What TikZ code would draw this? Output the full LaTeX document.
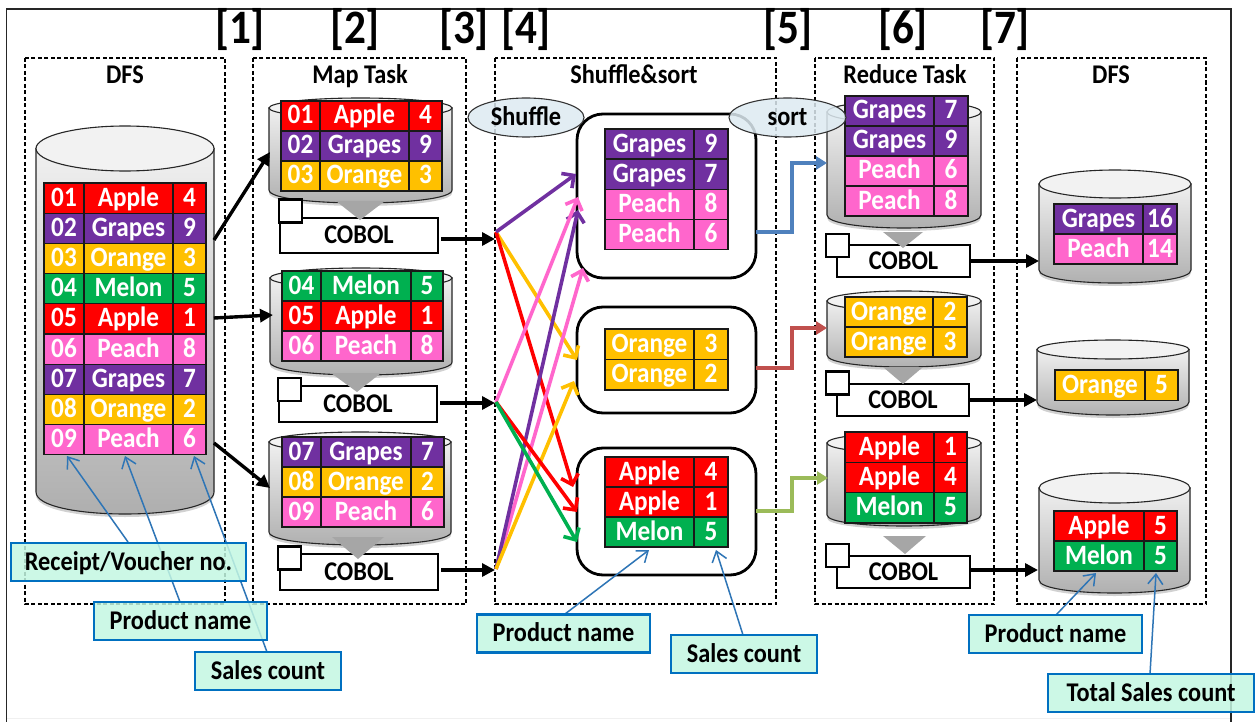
\documentclass[tikz,border=0pt]{standalone}
\usepackage{fontspec}
\setmainfont{Carlito}[FakeStretch=0.9]
\usetikzlibrary{arrows.meta,shapes.geometric,calc}
\definecolor{tred}{HTML}{FF0000}
\definecolor{tpur}{HTML}{7030A0}
\definecolor{torg}{HTML}{FFC000}
\definecolor{tgrn}{HTML}{00B050}
\definecolor{tpnk}{HTML}{FF66CC}
\definecolor{callfill}{HTML}{C4F7E2}
\definecolor{callline}{HTML}{0070C0}
\definecolor{callarrow}{HTML}{2E75B6}
\definecolor{elfill}{HTML}{DEEBF2}
\definecolor{stepb}{HTML}{4F81BD}
\definecolor{stepr}{HTML}{C0504D}
\definecolor{stepg}{HTML}{9BBB59}
\newcommand\fs[1]{\fontsize{#1}{#1}\selectfont\bfseries}
\tikzset{
  every node/.style={inner sep=0pt,outer sep=0pt},
  dashbox/.style={draw=black,dashed,line width=1.1pt,dash pattern=on 4pt off 2.5pt},
  tabcell/.style={draw=black!90,line width=1.2pt,anchor=north west,text=white,font=\fs{28},
    text height=19pt,text depth=3pt,align=center},
  head/.style={font=\fs{27},text=black,text height=19pt,text depth=4pt},
  bignum/.style={font=\fs{48},text=black},
  cylbody/.style={draw=black!85,line width=1.1pt,top color=black!6,bottom color=black!32},
  cyltop/.style={draw=black!85,line width=1.1pt,fill=black!5,ellipse},
  cobolbox/.style={draw=black,line width=2.6pt,fill=white,font=\fs{27},text height=19pt,text depth=3pt},
  cobolsq/.style={draw=black,line width=2.6pt,fill=white},
  funnel/.style={fill=black!35,draw=none},
  rbox/.style={draw=black,line width=2.8pt,fill=white,rounded corners=26pt},
  blk/.style={draw=black,line width=3.4pt,-{Triangle[length=13pt,width=13pt]}},
  mv/.style={line width=3.6pt,-{Straight Barb[length=9pt,width=18pt,line width=3.6pt]}},
  stepa/.style={line width=3.8pt,-{Triangle[length=11pt,width=13pt]}},
  call/.style={draw=callline,line width=2.2pt,fill=callfill,fill opacity=.85,text opacity=1,font=\fs{27},
    text=black,text height=19pt,text depth=3pt},
  calla/.style={draw=callarrow,line width=1.5pt,-{Straight Barb[length=10pt,width=15pt,line width=1.5pt]}},
  elbl/.style={ellipse,draw=black!80,line width=1.1pt,fill=elfill,fill opacity=.85,text opacity=1,font=\fs{27},
    text=black,text height=19pt,text depth=3pt},
}
% three-column table: name, x0, xa, xb, x1, y0, row height, rows
\newcommand\tablethree[8]{%
  \foreach \cc/\ii/\ll/\nn [count=\kk] in {#8}{%
    \pgfmathsetmacro\ytop{#6+(\kk-1)*#7}%
    \pgfmathsetmacro\wa{#3-#2}\pgfmathsetmacro\wb{#4-#3}\pgfmathsetmacro\wc{#5-#4}%
    \node[tabcell,fill=\cc,minimum width=\wa pt,minimum height=#7pt] (#1-\kk-a) at (#2,\ytop) {\ii};
    \node[tabcell,fill=\cc,minimum width=\wb pt,minimum height=#7pt] (#1-\kk-b) at (#3,\ytop) {\ll};
    \node[tabcell,fill=\cc,minimum width=\wc pt,minimum height=#7pt] (#1-\kk-c) at (#4,\ytop) {\nn};
  }%
}
% two-column table: name, x0, xa, x1, y0, row height, rows
\newcommand\tabletwo[7]{%
  \foreach \cc/\ll/\nn [count=\kk] in {#7}{%
    \pgfmathsetmacro\ytop{#5+(\kk-1)*#6}%
    \pgfmathsetmacro\wb{#3-#2}\pgfmathsetmacro\wc{#4-#3}%
    \node[tabcell,fill=\cc,minimum width=\wb pt,minimum height=#6pt] (#1-\kk-b) at (#2,\ytop) {\ll};
    \node[tabcell,fill=\cc,minimum width=\wc pt,minimum height=#6pt] (#1-\kk-c) at (#3,\ytop) {\nn};
  }%
}
% cylinder: name, x1, x2, ytop, ry, y side end, y bottom
\newcommand\cyl[7]{%
  \pgfmathsetmacro\cylcx{(#2+#3)/2}\pgfmathsetmacro\cylw{#3-#2}\pgfmathsetmacro\cylh{2*#5}%
  \pgfmathsetmacro\cylyc{#4+#5}\pgfmathsetmacro\cylcb{#6+4/3*(#7-#6)}%
  \fill[black,opacity=.18] (#2,\cylyc+3) -- (#2,#6+3) .. controls (#2,\cylcb+3) and (#3,\cylcb+3) .. (#3,#6+3) -- (#3,\cylyc+3) -- cycle;
  \path[cylbody] (#2,\cylyc) -- (#2,#6) .. controls (#2,\cylcb) and (#3,\cylcb) .. (#3,#6) -- (#3,\cylyc) -- cycle;
  \node[cyltop,minimum width=\cylw pt,minimum height=\cylh pt] (#1) at (\cylcx,\cylyc) {};
}
% COBOL box: name, x0, x1, y0, y1, square position
\newcommand\cobol[6]{%
  \pgfmathsetmacro\cbw{#3-#2}\pgfmathsetmacro\cbh{#5-#4}%
  \node[cobolbox,anchor=north west,minimum width=\cbw pt,minimum height=\cbh pt] (#1) at (#2,#4) {COBOL};
  \node[cobolsq,anchor=north west,minimum width=23pt,minimum height=23pt] (#1-sq) at (#6) {};
}
\begin{document}
\begin{tikzpicture}[x=1pt,y=-1pt]
\useasboundingbox (0,0) rectangle (1255,722);
\fill[white] (0,0) rectangle (1255,722);
% frame
\draw[black!6,line width=1pt] (6.5,718.5) -- (1231,718.5);
\draw[black!85,line width=1.3pt] (6.5,722) -- (6.5,9) -- (1231,9) -- (1231,722);
% dashed panels
\draw[dashbox] (25,58) rectangle (225,604);
\draw[dashbox] (253,58) rectangle (466,604);
\draw[dashbox] (495,58) rectangle (776,604);
\draw[dashbox] (815,58) rectangle (994,604);
\draw[dashbox] (1017,58) rectangle (1206,604);
% step numbers
\foreach \nm/\xx/\tt in {n1/240/{[1]},n2/355/{[2]},n3/464/{[3]},n4/526/{[4]},n5/788/{[5]},n6/903/{[6]},n7/1005/{[7]}}
  \node[bignum] (\nm) at (\xx,30) {\tt};
% panel titles
\node[head] (t1) at (125,76) {DFS};
\node[head] (t2) at (360,76) {Map Task};
\node[head] (t3) at (634,76) {Shuffle\&sort};
\node[head] (t4) at (905,76) {Reduce Task};
\node[head] (t5) at (1111,76) {DFS};

% source DFS
\cyl{dfsa}{36}{214}{126}{22.5}{492}{514}
\tablethree{ta}{44}{84}{173}{206}{183}{30.2}{tred/01/Apple/4,tpur/02/Grapes/9,torg/03/Orange/3,tgrn/04/Melon/5,tred/05/Apple/1,tpnk/06/Peach/8,tpur/07/Grapes/7,torg/08/Orange/2,tpnk/09/Peach/6}

% map cylinders
\cyl{ma}{269}{452}{98}{10}{190}{203}
\cyl{mb}{270}{452}{268}{10}{362}{375}
\cyl{mc}{269}{451}{432}{10}{532}{545}
\tablethree{tma}{281}{320}{409}{442}{101}{30}{tred/01/Apple/4,tpur/02/Grapes/9,torg/03/Orange/3}
\tablethree{tmb}{282}{321}{411}{443}{271}{30}{tgrn/04/Melon/5,tred/05/Apple/1,tpnk/06/Peach/8}
\tablethree{tmc}{282}{321}{411}{444}{437}{30}{tpur/07/Grapes/7,torg/08/Orange/2,tpnk/09/Peach/6}

% COBOL (map)
\cobol{ca}{280}{438}{218}{253}{279,199.5}
\cobol{cb}{279}{437}{386}{422}{278,378}
\cobol{cc}{280}{438}{554}{590}{278,546.5}
\fill[funnel] (336,201) -- (385,201) -- (360,220) -- cycle;
\fill[funnel] (331,373) -- (381,373) -- (357,392) -- cycle;
\fill[funnel] (332,537) -- (384,537) -- (358,559) -- cycle;

% reduce cylinders
\cyl{ra}{827}{981}{101}{11}{215}{228}
\cyl{rb}{827}{981}{291}{10}{355}{367}
\cyl{rc}{827}{981}{433}{10}{515}{526}
\tabletwo{tra}{845}{934}{968}{96}{30}{tpur/Grapes/7,tpur/Grapes/9,tpnk/Peach/6,tpnk/Peach/8}
\tabletwo{trb}{845}{933}{967}{297}{30}{torg/Orange/2,torg/Orange/3}
\tabletwo{trc}{845}{934}{967}{432}{30.3}{tred/Apple/1,tred/Apple/4,tgrn/Melon/5}

% COBOL (reduce)
\cobol{cd}{837}{970}{245}{277}{826,234}
\cobol{ce}{837}{969}{384}{416}{826,371.5}
\cobol{cf}{837}{970}{556}{588}{826,544}
\fill[funnel] (883,232) -- (923,232) -- (903,248) -- cycle;
\fill[funnel] (883,367) -- (923,367) -- (903,384) -- cycle;
\fill[funnel] (883,536) -- (926,536) -- (905,554) -- cycle;

% target DFS
\cyl{da}{1039}{1191}{170}{14}{270}{283}
\cyl{db}{1037}{1189}{340}{9.5}{402}{415}
\cyl{dc}{1039}{1190}{473}{15}{580}{593}
\tabletwo{tda}{1054}{1143}{1177}{204}{30}{tpur/Grapes/16,tpnk/Peach/14}
\tabletwo{tdb}{1055}{1145}{1178}{370}{30.5}{torg/Orange/5}
\tabletwo{tdc}{1054}{1144}{1177}{511}{30}{tred/Apple/5,tgrn/Melon/5}

% shuffle groups
\node[rbox,anchor=north west,minimum width=179pt,minimum height=164pt] (ga) at (577,114) {};
\node[rbox,anchor=north west,minimum width=179pt,minimum height=106pt] (gb) at (577,307) {};
\node[rbox,anchor=north west,minimum width=179pt,minimum height=127pt] (gc) at (577,448) {};
\tabletwo{tga}{605}{694}{728}{129}{30.1}{tpur/Grapes/9,tpur/Grapes/7,tpnk/Peach/8,tpnk/Peach/6}
\tabletwo{tgb}{605}{694}{728}{329}{30.5}{torg/Orange/3,torg/Orange/2}
\tabletwo{tgc}{605}{694}{728}{457}{30}{tred/Apple/4,tred/Apple/1,tgrn/Melon/5}

% junctions and connector ends
\coordinate (ja) at (496,232);
\coordinate (jb) at (496,402);
\coordinate (jc) at (496,569);
\coordinate (sa) at (214,240);
\coordinate (sb) at (214,318);
\coordinate (sc) at (214,443);
\coordinate (ea) at (270,152);
\coordinate (eb) at (273,315);
\coordinate (ec) at (270,488);
\coordinate (ka) at (495,239);
\coordinate (kb) at (495,403);
\coordinate (kc) at (495,570);
\coordinate (kd) at (1039,261);
\coordinate (ke) at (1037,400);
\coordinate (kf) at (1038,570);
\coordinate (ga1) at (576,174);
\coordinate (ga2) at (578,197);
\coordinate (ga3) at (578,210);
\coordinate (ga4) at (583,268);
\coordinate (gb1) at (577,360);
\coordinate (gb2) at (574,381);
\coordinate (gc1) at (573,487);
\coordinate (gc2) at (577,512);
\coordinate (gc3) at (577,542);

% black connectors
\draw[blk] (sa) -- (ea);
\draw[blk] (sb) -- (eb);
\draw[blk] (sc) -- (ec);
\draw[blk,shorten <=3pt] (ca.east |- ka) -- (ka);
\draw[blk,shorten <=3pt] (cb.east |- kb) -- (kb);
\draw[blk,shorten <=3pt] (cc.east |- kc) -- (kc);
\draw[blk] (cd.east |- kd) -- (kd);
\draw[blk] (ce.east |- ke) -- (ke);
\draw[blk] (cf.east |- kf) -- (kf);

% moves
\draw[mv,draw=torg] (ja) -- (gb1);
\draw[mv,draw=tred] (ja) -- (gc1);
\draw[mv,draw=tpur] (ja) -- (ga1);
\draw[mv,draw=tpnk] (jc) -- (ga4);
\draw[mv,draw=tpur] (jc) -- (ga3);
\draw[mv,draw=torg] (jc) -- (gb2);
\draw[mv,draw=tpnk] (jb) -- (ga2);
\draw[mv,draw=tred] (jb) -- (gc2);
\draw[mv,draw=tgrn] (jb) -- (gc3);

% reduce inputs
\coordinate (ha) at (827,163);
\coordinate (hb) at (827,328);
\coordinate (hc) at (828,478);
\coordinate (va) at (792,232);
\coordinate (vb) at (792,368);
\coordinate (vc) at (792,511);
\draw[stepa,draw=stepb] (ga.east |- va) -- (va) |- (ha);
\draw[stepa,draw=stepr] (gb.east |- vb) -- (vb) |- (hb);
\draw[stepa,draw=stepg] (gc.east |- vc) -- (vc) |- (hc);

% ellipses
\node[elbl,minimum width=116pt,minimum height=39pt] (shuf) at (526,117.5) {Shuffle};
\node[elbl,minimum width=117pt,minimum height=39pt] (sort) at (787.5,117.5) {sort};

% callout arrows
\coordinate (ta1) at (67,456);
\coordinate (ta2) at (125,456);
\coordinate (ta3) at (194,456);
\coordinate (ta4) at (649,550);
\coordinate (ta5) at (716,550);
\coordinate (ta6) at (1096,573);
\coordinate (ta7) at (1156,573);
\coordinate (ra1) at (128,542);
\coordinate (ra2) at (180,602);
\coordinate (ra3) at (267,652);
\coordinate (ra4) at (565,614);
\coordinate (ra5) at (743,635);
\coordinate (ra6) at (1056,615);
\coordinate (ra7) at (1150,674);
\draw[calla] (ra1) -- (ta1);
\draw[calla] (ra2) -- (ta2);
\draw[calla] (ra3) -- (ta3);
\draw[calla] (ra4) -- (ta4);
\draw[calla] (ra5) -- (ta5);
\draw[calla] (ra6) -- (ta6);
\draw[calla] (ra7) -- (ta7);

% callouts
\node[call,minimum width=235pt,minimum height=38pt] (c1) at (128.5,562) {Receipt/Voucher no.};
\node[call,minimum width=173pt,minimum height=38pt] (c2) at (180.5,621) {Product name};
\node[call,minimum width=146pt,minimum height=38pt] (c3) at (268,671) {Sales count};
\node[call,minimum width=173pt,minimum height=38pt] (c4) at (563.5,633.5) {Product name};
\node[call,minimum width=146pt,minimum height=38pt] (c5) at (744,654) {Sales count};
\node[call,minimum width=173pt,minimum height=38pt] (c6) at (1055.5,634) {Product name};
\node[call,minimum width=206pt,minimum height=38pt] (c7) at (1151,693) {Total Sales count};
\end{tikzpicture}
\end{document}
